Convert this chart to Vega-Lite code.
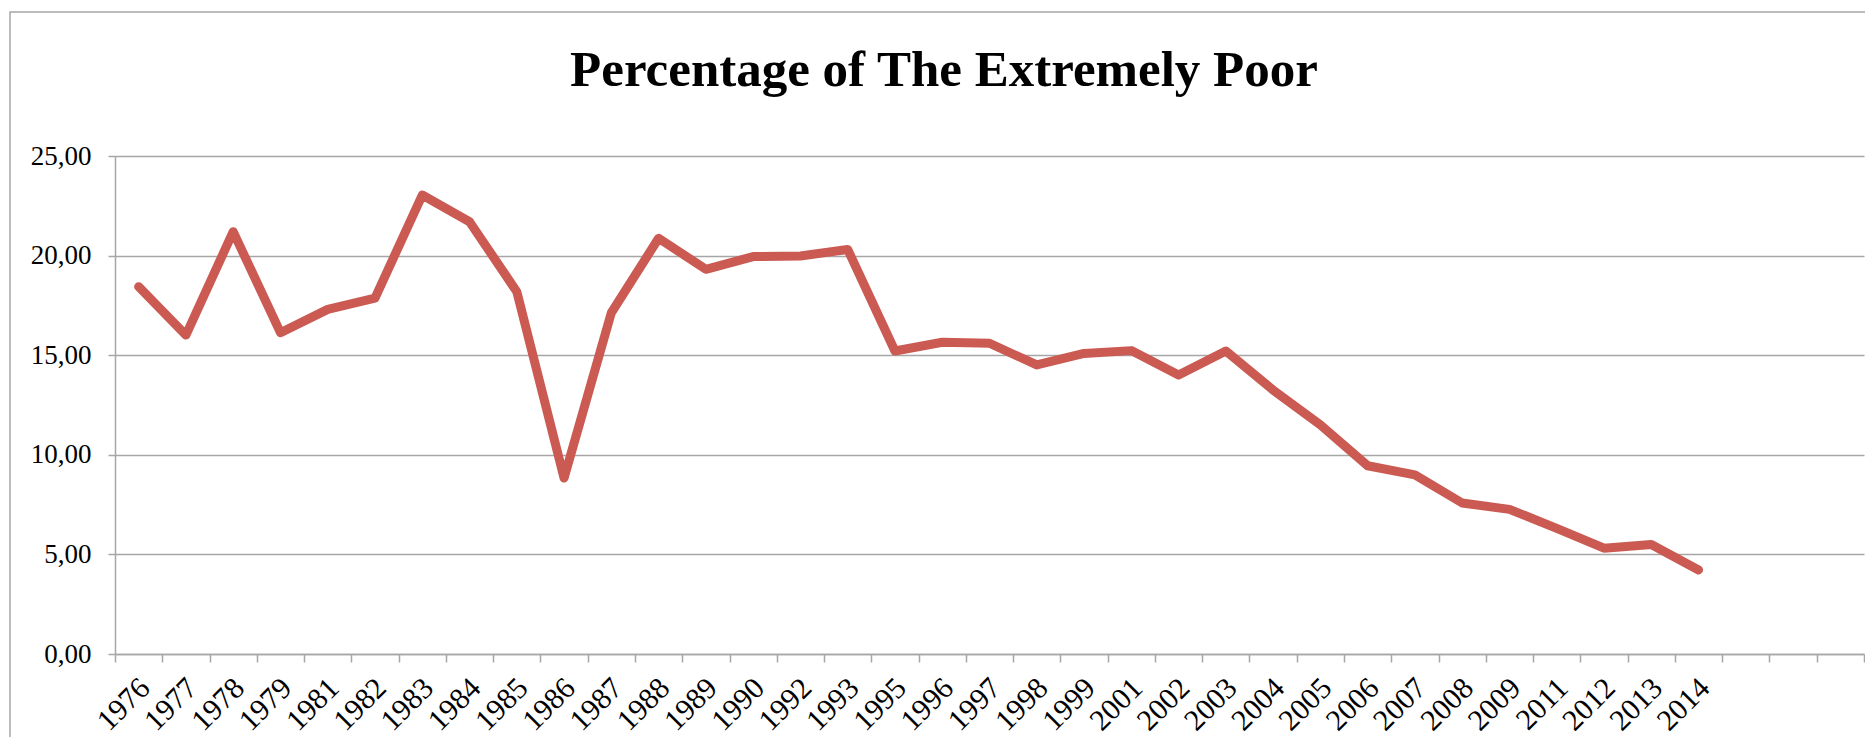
{
  "$schema": "https://vega.github.io/schema/vega-lite/v6.json",
  "description": "Share of the population in extreme poverty by survey year, drawn as a single thick line inside a framed chart area.",
  "autosize": {"type": "none"},
  "width": 1858,
  "height": 730,
  "padding": {"left": 10, "top": 12, "right": 0, "bottom": 0},
  "background": "white",
  "title": {
    "text": "Percentage of The Extremely Poor",
    "font": "Liberation Serif",
    "fontSize": 51,
    "fontWeight": "bold",
    "color": "#000000",
    "anchor": "middle",
    "frame": "group",
    "baseline": "alphabetic",
    "offset": 0,
    "dy": 125,
    "dx": 5
  },
  "config": {
    "view": {"stroke": "#A6A6A6", "strokeWidth": 1.5},
    "axis": {
      "labelFont": "Liberation Serif",
      "labelFontSize": 27,
      "labelColor": "#000000",
      "domainColor": "#A6A6A6",
      "domainWidth": 1.5,
      "tickColor": "#A6A6A6",
      "tickWidth": 1.5,
      "gridColor": "#A6A6A6",
      "gridWidth": 1.5,
      "title": null
    }
  },
  "data": {
    "values": [
      {"year": "1976", "pct": 18.44},
      {"year": "1977", "pct": 16.01},
      {"year": "1978", "pct": 21.2},
      {"year": "1979", "pct": 16.13},
      {"year": "1981", "pct": 17.3},
      {"year": "1982", "pct": 17.86},
      {"year": "1983", "pct": 23.04},
      {"year": "1984", "pct": 21.7},
      {"year": "1985", "pct": 18.19},
      {"year": "1986", "pct": 8.83},
      {"year": "1987", "pct": 17.13},
      {"year": "1988", "pct": 20.87},
      {"year": "1989", "pct": 19.31},
      {"year": "1990", "pct": 19.95},
      {"year": "1992", "pct": 19.98},
      {"year": "1993", "pct": 20.31},
      {"year": "1995", "pct": 15.21},
      {"year": "1996", "pct": 15.65},
      {"year": "1997", "pct": 15.6},
      {"year": "1998", "pct": 14.51},
      {"year": "1999", "pct": 15.09},
      {"year": "2001", "pct": 15.23},
      {"year": "2002", "pct": 14.01},
      {"year": "2003", "pct": 15.21},
      {"year": "2004", "pct": 13.25},
      {"year": "2005", "pct": 11.5},
      {"year": "2006", "pct": 9.45},
      {"year": "2007", "pct": 8.99},
      {"year": "2008", "pct": 7.58},
      {"year": "2009", "pct": 7.26},
      {"year": "2011", "pct": 6.31},
      {"year": "2012", "pct": 5.31},
      {"year": "2013", "pct": 5.5},
      {"year": "2014", "pct": 4.22}
    ]
  },
  "mark": {
    "type": "line",
    "color": "#CB5A53",
    "strokeWidth": 9,
    "strokeCap": "round",
    "strokeJoin": "round"
  },
  "encoding": {
    "x": {
      "field": "year",
      "type": "nominal",
      "sort": null,
      "scale": {
        "type": "band",
        "domain": ["1976", "1977", "1978", "1979", "1981", "1982", "1983", "1984", "1985", "1986", "1987", "1988", "1989", "1990", "1992", "1993", "1995", "1996", "1997", "1998", "1999", "2001", "2002", "2003", "2004", "2005", "2006", "2007", "2008", "2009", "2011", "2012", "2013", "2014", " ", "  ", "   "],
        "range": [105, 1854],
        "paddingInner": 0,
        "paddingOuter": 0
      },
      "axis": {
        "offset": -88,
        "labelAngle": -45,
        "labelAlign": "right",
        "labelBaseline": "middle",
        "labelFontSize": 30,
        "labelPadding": 21,
        "labelOffset": 6,
        "labelOverlap": false,
        "labelBound": false,
        "labelFlush": false,
        "tickBand": "extent",
        "tickSize": 8,
        "grid": false
      }
    },
    "y": {
      "field": "pct",
      "type": "quantitative",
      "scale": {"domain": [0, 25], "nice": false, "zero": true, "range": [642, 144]},
      "axis": {
        "offset": -105,
        "values": [0, 5, 10, 15, 20, 25],
        "labelExpr": "replace(format(datum.value, '.2f'), '.', ',')",
        "labelPadding": 17,
        "tickSize": 7,
        "grid": true
      }
    }
  }
}
